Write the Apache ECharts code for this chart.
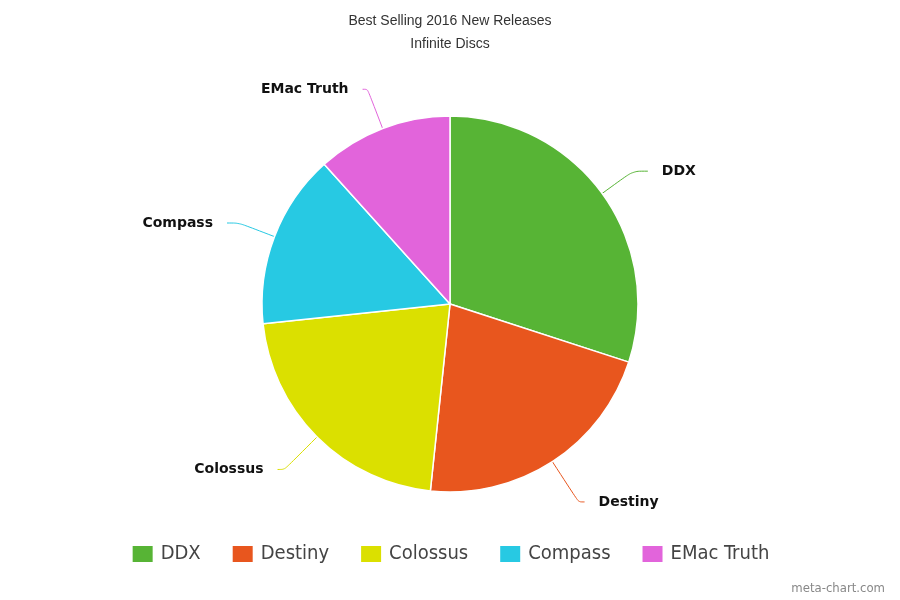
<!DOCTYPE html>
<html>
<head>
<meta charset="utf-8">
<script src="https://cdn.jsdelivr.net/npm/echarts@6/dist/echarts.min.js"></script>
<style>
  html, body { margin: 0; padding: 0; background: #fff; }
  #chart { width: 900px; height: 600px; }
</style>
</head>
<body>
<div id="chart"></div>
<script>
// 数据
var titleText = 'Best Selling 2016 New Releases';
var subText = 'Infinite Discs';
var names = ['DDX', 'Destiny', 'Colossus', 'Compass', 'EMac Truth'];
var values = [18, 13, 13, 9, 7];
var colors = ['#57b435', '#e8561e', '#dbe000', '#27c9e3', '#e264db'];
var lineLengths = [38, 48, 46, 38, 42];
var lineLengths2 = [15, 6, 7, 12, 5];

var chart = echarts.init(document.getElementById('chart'));

var pieData = [];
for (var i = 0; i < names.length; i++) {
	pieData.push({
		name: names[i],
		value: values[i],
		itemStyle: { color: colors[i] },
		labelLine: { length: lineLengths[i], length2: lineLengths2[i], lineStyle: { color: colors[i] } }
	});
}

var option = {
	backgroundColor: '#fff',
	animation: false,
	title: {
		text: titleText,
		subtext: subText,
		left: 'center',
		top: 9,
		itemGap: 9,
		textStyle: { fontFamily: 'Liberation Sans', fontSize: 14, fontWeight: 'normal', color: '#333' },
		subtextStyle: { fontFamily: 'Liberation Sans', fontSize: 14, color: '#333' }
	},
	legend: {
		data: names,
		bottom: 31,
		left: 'center',
		itemWidth: 22,
		itemHeight: 18,
		itemGap: 30,
		icon: 'rect',
		textStyle: { fontFamily: 'DejaVu Sans Condensed', fontSize: 20, color: '#444', padding: [0, 0, 0, 2] }
	},
	graphic: [{
		type: 'text',
		right: 15,
		bottom: 5,
		style: { text: 'meta-chart.com', fontFamily: 'DejaVu Sans Condensed', fontSize: 13, fill: '#888' }
	}],
	series: [{
		type: 'pie',
		center: [450, 304],
		radius: 188,
		startAngle: 90,
		clockwise: true,
		avoidLabelOverlap: false,
		itemStyle: { borderColor: '#fff', borderWidth: 1.5 },
		label: {
			show: true,
			formatter: '{b}',
			fontFamily: 'DejaVu Sans',
			fontWeight: 'bold',
			fontSize: 14,
			color: '#111',
			distanceToLabelLine: 14
		},
		labelLine: {
			show: true,
			length: 38,
			length2: 12,
			smooth: 0.3,
			lineStyle: { width: 1 }
		},
		data: pieData
	}]
};

chart.setOption(option);
</script>
</body>
</html>
